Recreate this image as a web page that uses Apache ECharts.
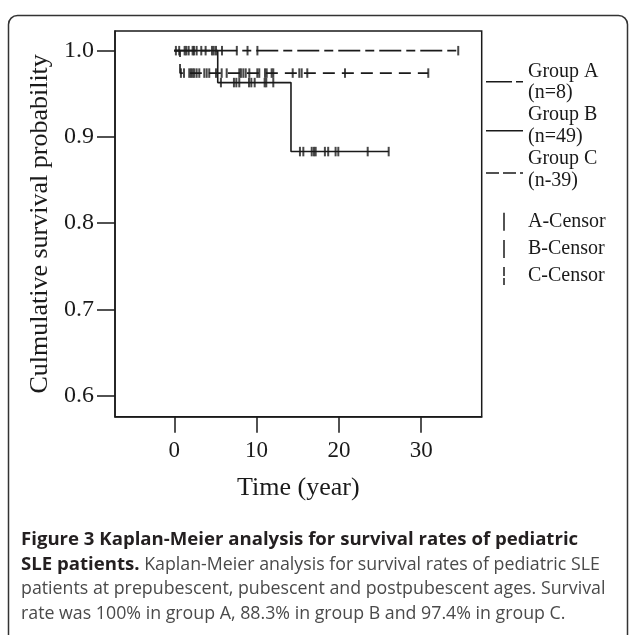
<!DOCTYPE html>
<html>
<head>
<meta charset="utf-8">
<script src="https://cdn.jsdelivr.net/npm/echarts@6/dist/echarts.min.js"></script>
<style>
html,body{margin:0;padding:0;background:#fff;}
#chart{width:629px;height:635px;}
</style>
</head>
<body>
<div id="chart"></div>
<script>
// ---- data ----
const timeTicks = [0, 10, 20, 30];
const survTicks = [0.6, 0.7, 0.8, 0.9, 1.0];
const groupNames = ['Group A', 'Group B', 'Group C'];
const groupCounts = ['(n=8)', '(n=49)', '(n-39)'];
const censorNames = ['A-Censor', 'B-Censor', 'C-Censor'];

const aEventTimes = [];
const aSurvival = [];
const aEndTime = 34.5;
const aCensorTimes = [0.6, 2.4, 4.8, 5.8, 7.6, 8.9, 10.1, 34.5];

const bEventTimes = [5.28, 14.18];
const bSurvival = [0.963, 0.883];
const bEndTime = 26.05;
const bCensorTimes = [0.2, 1.26, 1.46, 1.75, 2.23, 2.72, 3.28, 3.81, 4.58, 5.07,
  5.67, 7.25, 7.54, 7.9, 9.08, 9.36, 9.77, 10.98, 11.18, 12.03,
  15.27, 15.68, 16.7, 16.97, 17.18, 18.3, 18.7, 19.6, 19.93, 23.5, 26.05];

const cEventTimes = [0.7];
const cSurvival = [0.974];
const cEndTime = 30.86;
const cCensorTimes = [0.81, 1.18, 1.82, 2.03, 2.24, 2.43, 2.72, 3.04, 3.65, 3.94, 4.25,
  5.07, 5.76, 6.37, 7.9, 8.1, 8.39, 8.68, 9.12, 10.09, 10.33, 11.02, 11.23, 11.83,
  12.03, 14.39, 15.19, 15.48, 16.16, 20.74, 30.86];

const captionLines = [
  [['b', 'Figure 3 Kaplan-Meier analysis for survival rates of pediatric']],
  [['b', 'SLE patients.'], ['n', ' Kaplan-Meier analysis for survival rates of pediatric SLE']],
  [['n', 'patients at prepubescent, pubescent and postpubescent ages. Survival']],
  [['n', 'rate was 100% in group A, 88.3% in group B and 97.4% in group C.']]
];

// ---- build ----
const groups = [
  {ev: aEventTimes, sv: aSurvival, end: aEndTime, cens: aCensorTimes},
  {ev: bEventTimes, sv: bSurvival, end: bEndTime, cens: bCensorTimes},
  {ev: cEventTimes, sv: cSurvival, end: cEndTime, cens: cCensorTimes}
];
const INK = '#1a1a1a';
const dashes = [[22, 5, 9, 5], 'solid', [12, 7]];
const serif = 'Liberation Serif';

function survAt(g, t) {
  let s = 1;
  for (let i = 0; i < g.ev.length; i++) if (g.ev[i] <= t) s = g.sv[i];
  return s;
}

const series = [];
groups.forEach((g, i) => {
  const pts = [[0, 1]];
  g.ev.forEach((t, k) => pts.push([t, g.sv[k]]));
  pts.push([g.end, g.sv.length ? g.sv[g.sv.length - 1] : 1]);
  series.push({
    name: groupNames[i], type: 'line', step: 'end', data: pts,
    symbol: 'none', silent: true, z: 3 - i,
    lineStyle: {color: INK, width: 1.6, type: dashes[i]}
  });
});
groups.forEach((g, i) => {
  series.push({
    name: censorNames[i], type: 'scatter', silent: true,
    data: g.cens.map(t => [t, survAt(g, t)]),
    symbol: 'rect', symbolSize: [2, 9.5],
    itemStyle: {color: INK}, z: 4
  });
});

// legend as graphics
const graphic = [];
const lineYs = [81.7, 130.7, 173];
const textYs = [[71.7, 93], [115, 136.7], [159, 180.7]];
const legFont = '20px "' + serif + '"';
groups.forEach((g, i) => {
  graphic.push({
    type: 'line', shape: {x1: 486, y1: lineYs[i], x2: 523, y2: lineYs[i]},
    style: {stroke: INK, lineWidth: 1.5, lineDash: dashes[i] === 'solid' ? null : (i === 0 ? [26, 4, 7, 4] : [13, 4])}
  });
  graphic.push({type: 'text', style: {x: 528, y: textYs[i][0], text: groupNames[i], font: legFont, fill: INK, textVerticalAlign: 'middle'}});
  graphic.push({type: 'text', style: {x: 528, y: textYs[i][1], text: groupCounts[i], font: legFont, fill: INK, textVerticalAlign: 'middle'}});
});
const cenYs = [221.7, 249, 276];
censorNames.forEach((n, i) => {
  graphic.push({
    type: 'line', shape: {x1: 504, y1: cenYs[i] - 9, x2: 504, y2: cenYs[i] + 9},
    style: {stroke: INK, lineWidth: 1.5, lineDash: i === 2 ? [9, 2] : null}
  });
  graphic.push({type: 'text', style: {x: 528, y: cenYs[i], text: n, font: legFont, fill: INK, textVerticalAlign: 'middle'}});
});
// frame
graphic.push({
  type: 'rect', shape: {x: 8.5, y: 15.5, width: 619, height: 700, r: 9},
  style: {fill: 'none', stroke: '#333', lineWidth: 1.5}, silent: true
});
// caption
const capYs = [540, 564.5, 589, 613.5];
captionLines.forEach((parts, i) => {
  graphic.push({
    type: 'text',
    style: {
      x: 21, y: capYs[i], textVerticalAlign: 'middle',
      text: parts.map(p => '{' + p[0] + '|' + p[1] + '}').join(''),
      rich: {
        b: {fontFamily: 'Open Sans', fontWeight: 'bold', fontSize: 18.6, fill: '#231f20'},
        n: {fontFamily: 'Open Sans', fontSize: 17.8, fill: '#4a4a4a'}
      }
    }
  });
});

const chart = echarts.init(document.getElementById('chart'), null, {renderer: 'canvas'});
chart.setOption({
  animation: false,
  backgroundColor: '#fff',
  grid: {left: 115, top: 31, right: 147.3, bottom: 218.3, show: true, borderColor: INK, borderWidth: 1.5, backgroundColor: 'transparent'},
  xAxis: {
    type: 'value', min: -7.2, max: 37.35,
    name: 'Time (year)', nameLocation: 'middle', nameGap: 58,
    nameTextStyle: {fontFamily: serif, fontSize: 26, color: INK},
    axisLine: {show: true, onZero: false, lineStyle: {color: INK, width: 1.5}},
    axisTick: {show: true, length: 16, customValues: timeTicks, lineStyle: {color: INK, width: 1.5}},
    axisLabel: {customValues: timeTicks, margin: 23, fontFamily: serif, fontSize: 23, color: INK},
    splitLine: {show: false}
  },
  yAxis: {
    type: 'value', min: 0.5756, max: 1.0228,
    name: 'Culmulative survival probability', nameLocation: 'middle', nameGap: 60, nameRotate: 90,
    nameTextStyle: {fontFamily: serif, fontSize: 26, color: INK},
    axisLine: {show: true, onZero: false, lineStyle: {color: INK, width: 1.5}},
    axisTick: {show: true, length: 18, customValues: survTicks, lineStyle: {color: INK, width: 1.5}},
    axisLabel: {customValues: survTicks, margin: 21, fontFamily: serif, fontSize: 24, color: INK, formatter: v => v.toFixed(1)},
    splitLine: {show: false}
  },
  series: series,
  graphic: graphic
});
</script>
</body>
</html>
